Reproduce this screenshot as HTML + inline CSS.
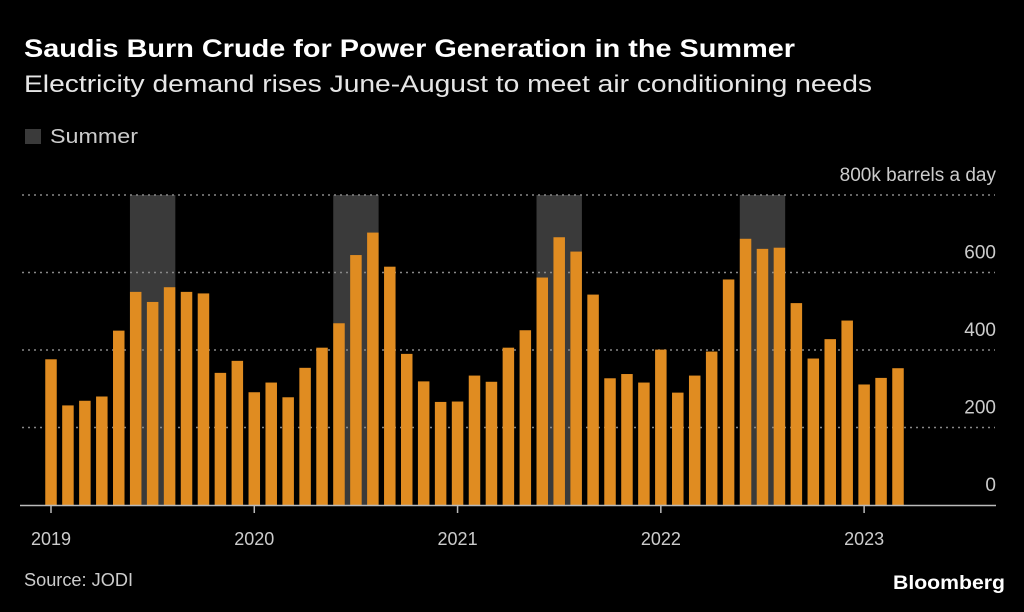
<!DOCTYPE html>
<html><head><meta charset="utf-8"><style>
html,body{margin:0;padding:0;background:#000;}
svg{display:block;font-family:"Liberation Sans",sans-serif;}
</style></head><body>
<svg id="chart" width="1024" height="612" viewBox="0 0 1024 612">
<rect width="1024" height="612" fill="#000"/>
<text x="24" y="57" fill="#fff" font-size="25" font-weight="bold" textLength="771" lengthAdjust="spacingAndGlyphs">Saudis Burn Crude for Power Generation in the Summer</text>
<text x="24" y="92" fill="#e6e6e6" font-size="24" textLength="848" lengthAdjust="spacingAndGlyphs">Electricity demand rises June-August to meet air conditioning needs</text>
<rect x="25" y="129" width="16" height="15" fill="#3a3a3a"/>
<text x="50" y="143" fill="#ccc" font-size="20" textLength="88" lengthAdjust="spacingAndGlyphs">Summer</text>
<g id="bands"></g><g id="grid"></g><g id="bars"></g><g id="axis"></g>
<text x="24" y="586" fill="#ccc" font-size="18" textLength="109" lengthAdjust="spacingAndGlyphs">Source: JODI</text>
<text x="1005" y="589" fill="#fff" font-size="19" font-weight="bold" text-anchor="end" textLength="112" lengthAdjust="spacingAndGlyphs">Bloomberg</text>
</svg>
<script>
const years = ["2019","2020","2021","2022","2023"];
const yTicks = [0,200,400,600,800];
const yTickLabels = ["0","200","400","600","800k barrels a day"];
const values = [
376,257,269,280,450,550,524,562,550,546,341,372,
291,316,278,354,406,469,645,703,615,390,319,266,
267,334,318,406,451,587,691,654,543,327,338,316,
401,290,334,396,582,687,661,664,521,378,428,476,
311,328,353];
const summerStartIdx = [5,17,29,41];
const NS='http://www.w3.org/2000/svg';
const x0=51, monthW=16.94, barW=11.5, yBase=505, pxPer=77.5/200;
const xs=i=>x0+i*monthW;
const ys=v=>yBase-v*pxPer;
function mk(tag,attrs,parent){const e=document.createElementNS(NS,tag);for(const k in attrs)e.setAttribute(k,attrs[k]);parent.appendChild(e);return e;}
const bands=document.getElementById('bands'),grid=document.getElementById('grid'),bars=document.getElementById('bars'),axis=document.getElementById('axis');
summerStartIdx.forEach(s=>{
  const r=mk('rect',{x:xs(s)-barW/2,y:ys(800),width:xs(s+2)-xs(s)+barW,height:yBase-ys(800),fill:'#3a3a3a'},bands);
  
  
});
yTicks.forEach((t,i)=>{
  if(t>0){const l=mk('line',{x1:22,x2:995,y1:ys(t),y2:ys(t),stroke:'#888','stroke-width':1.5,'stroke-dasharray':'2 4'},grid);
  
  }
  const tx=mk('text',{x:996,y:ys(t)-14,fill:'#ccc','font-size':19,'text-anchor':'end'},grid);
  tx.textContent=yTickLabels[i];
  
  
});
values.forEach((v,i)=>{
  const r=mk('rect',{x:xs(i)-barW/2,y:ys(v),width:barW,height:yBase-ys(v),fill:'#e08c21'},bars);
  
  
});
const al=mk('line',{x1:20,x2:996,y1:yBase+0.5,y2:yBase+0.5,stroke:'#bbb','stroke-width':1.5},axis);


years.forEach((y,i)=>{
  const x=xs(i*12);
  const tk=mk('line',{x1:x,x2:x,y1:yBase,y2:yBase+8,stroke:'#bbb','stroke-width':1.5},axis);
  
  
  const t=mk('text',{x:x,y:545,fill:'#ccc','font-size':18,'text-anchor':'middle'},axis);
  t.textContent=y;
  
  
});
</script>
</body></html>
